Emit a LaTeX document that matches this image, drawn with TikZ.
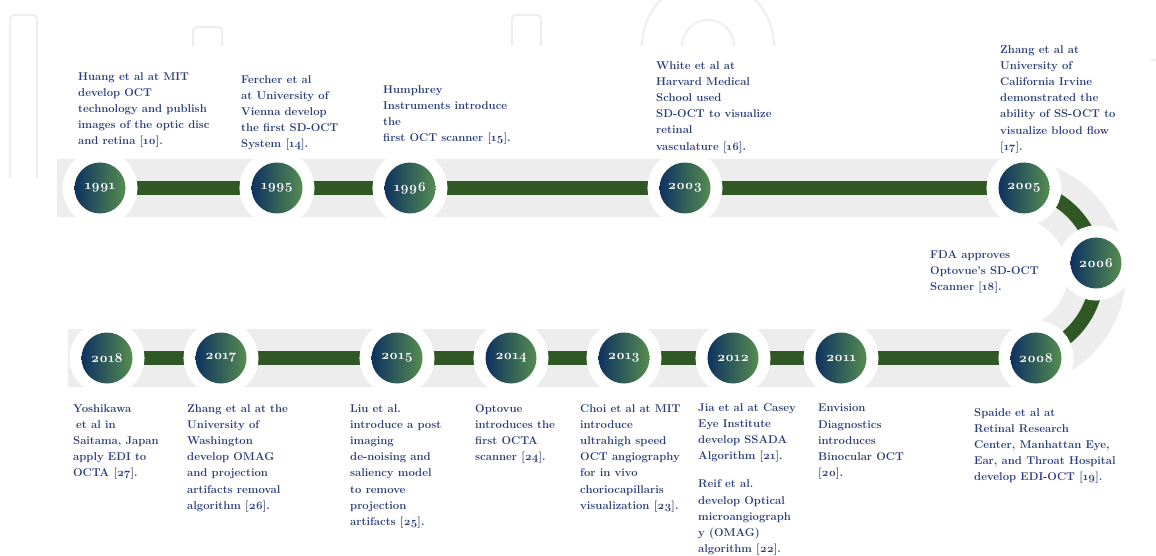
\documentclass[tikz,border=0pt]{standalone}
\usepackage{fontspec}
\setmainfont{Latin Modern Roman}
\newfontfamily\yearfont{Latin Modern Roman}[Numbers=OldStyle]
\usetikzlibrary{backgrounds}
\definecolor{navytext}{RGB}{42,60,122}
\definecolor{bargreen}{RGB}{47,88,36}
\definecolor{trackgrey}{RGB}{236,237,236}
\definecolor{balldark}{RGB}{14,50,96}
\definecolor{balllight}{RGB}{86,140,80}
\definecolor{logogrey}{RGB}{238,238,238}
\newcommand{\rf}[1]{[{\yearfont\bfseries #1}]}

\begin{document}
\begin{tikzpicture}[x=1pt,y=1pt,
    year/.style={circle, inner sep=0pt, minimum size=51pt,
      preaction={draw=white, line width=24pt},
      left color=balldark, right color=balllight,
      text=white, font=\yearfont\fontsize{13.5}{15}\selectfont\bfseries},
    event/.style={anchor=north west, inner sep=0pt, align=left, text=navytext,
      font=\fontsize{11.3}{16.2}\selectfont\bfseries},
    bar/.style={draw=bargreen, line width=14pt},
    track/.style={draw=trackgrey, line width=58pt},
    logo/.style={draw=logogrey, line width=2pt, rounded corners=4pt}]
  \useasboundingbox (0,0) rectangle (1156,-556);

  % years
  \node[year] (y1991) at (100,-188) {1991};
  \node[year] (y1995) at (277,-188) {1995};
  \node[year] (y1996) at (410,-188) {1996};
  \node[year] (y2003) at (685,-188) {2003};
  \node[year] (y2005) at (1024,-188) {2005};
  \node[year] (y2006) at (1096,-263) {2006};
  \node[year] (y2008) at (1036,-358) {2008};
  \node[year] (y2011) at (841,-358) {2011};
  \node[year] (y2012) at (733,-358) {2012};
  \node[year] (y2013) at (624,-358) {2013};
  \node[year] (y2014) at (511,-358) {2014};
  \node[year] (y2015) at (397,-358) {2015};
  \node[year] (y2017) at (221,-358) {2017};
  \node[year] (y2018) at (107,-358) {2018};

  \begin{scope}[on background layer]
    % faint logo behind
    \draw[logo] (10,-178) -- (10,-15) -- (37,-15) -- (37,-178);
    \draw[logo] (193,-46) -- (193,-27) -- (222,-27) -- (222,-46);
    \draw[logo] (512,-46) -- (512,-15) -- (541,-15) -- (541,-46);
    \draw[logo] (642,-46) arc[start angle=180, end angle=0, radius=66];
    \draw[logo] (682,-46) arc[start angle=180, end angle=0, radius=26];
    \draw[logo] (1156,-60) arc[start angle=90, end angle=180, radius=26];
    \fill[white, rounded corners=6pt] (55,-46) rectangle (1150,-556);
    % track and bars
    \draw[track] (57,-188) -- (1012,-188) arc[start angle=90, end angle=-90, radius=85] -- (68,-358);
    \draw[bar] (y1991) -- (y1995) -- (y1996) -- (y2003) -- (y2005);
    \draw[bar] (y2005.center) arc[start angle=82, end angle=-74, radius=85];
    \draw[bar] (y2008) -- (y2011) -- (y2012) -- (y2013) -- (y2014) -- (y2015) -- (y2017) -- (y2018);
  \end{scope}

  % events, top row
  \node[event] (t1991) at (78,-72) {Huang et al at MIT\\develop OCT\\technology and publish\\images of the optic disc\\and retina \rf{10}.};
  \node[event] (t1995) at (241,-75) {Fercher et al\\at University of\\Vienna develop\\the first SD-OCT\\System \rf{14}.};
  \node[event] (t1996) at (383,-85) {Humphrey\\Instruments introduce\\the\\first OCT scanner \rf{15}.};
  \node[event] (t2003) at (656,-61) {White et al at\\Harvard Medical\\School used\\SD-OCT to visualize\\retinal\\vasculature \rf{16}.};
  \node[event] (t2005) at (1000,-45) {Zhang et al at\\University of\\California Irvine\\demonstrated the\\ability of SS-OCT to\\visualize blood flow\\\rf{17}.};
  \node[event] (t2006) at (930,-250) {FDA approves\\Optovue's SD-OCT\\Scanner \rf{18}.};
  % events, bottom row
  \node[event] (t2018) at (73,-404) {Yoshikawa\\\hspace{3pt}et al in\\Saitama, Japan\\apply EDI to\\OCTA \rf{27}.};
  \node[event] (t2017) at (187,-404) {Zhang et al at the\\University of\\Washington\\develop OMAG\\and projection\\artifacts removal\\algorithm \rf{26}.};
  \node[event] (t2015) at (350,-404) {Liu et al.\\introduce a post\\imaging\\de-noising and\\saliency model\\to remove\\projection\\artifacts \rf{25}.};
  \node[event] (t2014) at (475,-404) {Optovue\\introduces the\\first OCTA\\scanner \rf{24}.};
  \node[event] (t2013) at (580,-404) {Choi et al at MIT\\introduce\\ultrahigh speed\\OCT angiography\\for in vivo\\choriocapillaris\\visualization \rf{23}.};
  \node[event] (t2012) at (698,-403) {Jia et al at Casey\\Eye Institute\\develop SSADA\\Algorithm \rf{21}.\\[12pt]Reif et al.\\develop Optical\\microangiograph\\y (OMAG)\\algorithm \rf{22}.};
  \node[event] (t2011) at (818,-404) {Envision\\Diagnostics\\introduces\\Binocular OCT\\\rf{20}.};
  \node[event] (t2008) at (974,-408) {Spaide et al at\\Retinal Research\\Center, Manhattan Eye,\\Ear, and Throat Hospital\\develop EDI-OCT \rf{19}.};
\end{tikzpicture}
\end{document}
